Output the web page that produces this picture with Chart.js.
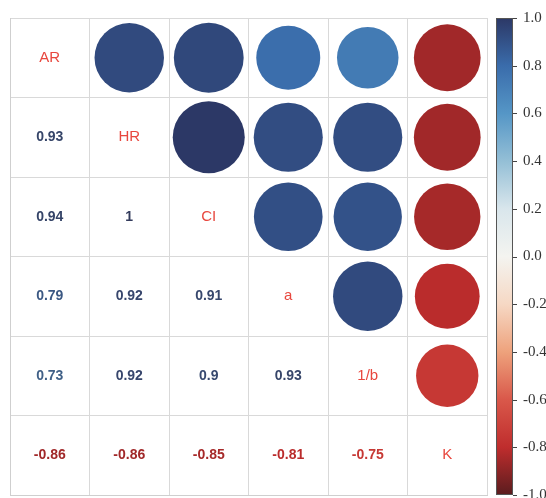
<!DOCTYPE html>
<html>
<head>
<meta charset="utf-8">
<script src="https://cdn.jsdelivr.net/npm/chart.js@4"></script>
<style>
  html, body { margin: 0; padding: 0; background: #fff; }
  #wrap { width: 546px; height: 498px; }
</style>
</head>
<body>
<div id="wrap"><canvas id="corr"></canvas></div>
<script>
// variables, in matrix order
const varNames = ['AR', 'HR', 'CI', 'a', '1/b', 'K']

// correlation matrix, one row per variable
const corrRows = [
  [1, 0.93, 0.94, 0.79, 0.73, -0.86],
  [0.93, 1, 1, 0.92, 0.92, -0.86],
  [0.94, 1, 1, 0.91, 0.9, -0.85],
  [0.79, 0.92, 0.91, 1, 0.93, -0.81],
  [0.73, 0.92, 0.9, 0.93, 1, -0.75],
  [-0.86, -0.86, -0.85, -0.81, -0.75, 1],
]

// colour bar ticks
const barTicks = [1, 0.8, 0.6, 0.4, 0.2, 0, -0.2, -0.4, -0.6, -0.8, -1]

// diverging palette, from -1 up to 1 in steps of 0.2
const paletteStops = [
  '#5a1c1e', '#bf2d2d', '#d9584a', '#eea27c', '#f6d8c4', '#f4f4f0',
  '#d9e6ec', '#94bfd6', '#5596c6', '#3a6cab', '#2c3866',
]

const hexToRgb = (h) => [1, 3, 5].map((i) => parseInt(h.slice(i, i + 2), 16))

const mixRgb = (a, b, t) => a.map((x, k) => Math.round(x + (b[k] - x) * t))

const rgbOf = (v) => {
  const pos = (v + 1) / 2 * (paletteStops.length - 1)
  const i = Math.min(Math.floor(pos), paletteStops.length - 2)
  return mixRgb(hexToRgb(paletteStops[i]), hexToRgb(paletteStops[i + 1]), pos - i)
}

const toCss = (c) => `rgb(${c[0]},${c[1]},${c[2]})`

const colorFor = (v) => toCss(rgbOf(v))

// positive numbers print a bit darker and greyer than their circles
const textColorFor = (v) => {
  const c = rgbOf(v)
  return toCss(v > 0 ? mixRgb(c, [60, 62, 80], 0.45) : c)
}

// upper triangle -> circles
const circles = []
corrRows.forEach((row, i) => {
  row.forEach((v, j) => {
    if (j > i) circles.push({ x: j + 0.5, y: i + 0.5, v })
  })
})

const cellPx = (chart) => {
  const s = chart.scales.x
  return s.getPixelForValue(1) - s.getPixelForValue(0)
}

// lower triangle numbers and diagonal names
const cellText = {
  id: 'cellText',
  afterDatasetsDraw(chart) {
    const { ctx, scales: { x, y } } = chart
    ctx.save()
    ctx.textAlign = 'center'
    ctx.textBaseline = 'middle'
    corrRows.forEach((row, i) => {
      row.forEach((v, j) => {
        if (j > i) return
        const px = x.getPixelForValue(j + 0.5)
        const py = y.getPixelForValue(i + 0.5)
        if (i === j) {
          ctx.font = '15px "Liberation Sans", Arial, sans-serif'
          ctx.fillStyle = '#e8473e'
          ctx.fillText(varNames[i], px, py)
        } else {
          ctx.font = 'bold 14px "Liberation Sans", Arial, sans-serif'
          ctx.fillStyle = textColorFor(v)
          ctx.fillText(String(v), px, py)
        }
      })
    })
    ctx.restore()
  },
}

// gradient bar drawn along the cb scale
const colorBar = {
  id: 'colorBar',
  afterDraw(chart) {
    const { ctx, chartArea } = chart
    const s = chart.scales.cb
    const x0 = chartArea.right + 9
    const w = 17
    const top = s.getPixelForValue(1)
    const bottom = s.getPixelForValue(-1)
    const grad = ctx.createLinearGradient(0, bottom, 0, top)
    paletteStops.forEach((c, k) => grad.addColorStop(k / (paletteStops.length - 1), c))
    ctx.save()
    ctx.fillStyle = grad
    ctx.fillRect(x0, top, w, bottom - top)
    ctx.strokeStyle = '#555'
    ctx.lineWidth = 1
    ctx.strokeRect(x0 + 0.5, top + 0.5, w - 1, bottom - top - 1)
    ctx.strokeStyle = '#444'
    barTicks.forEach((v) => {
      const py = Math.round(s.getPixelForValue(v)) + 0.5
      ctx.beginPath()
      ctx.moveTo(x0 + w, py)
      ctx.lineTo(x0 + w + 4, py)
      ctx.stroke()
    })
    ctx.restore()
  },
}

const gridScale = {
  type: 'linear',
  min: 0,
  max: 6,
  ticks: { display: false, stepSize: 1 },
  grid: { color: '#d9d9d9', drawTicks: false, lineWidth: 1 },
  border: { display: true, color: '#cfcfcf' },
}

new Chart(document.getElementById('corr').getContext('2d'), {
  type: 'scatter',
  data: {
    datasets: [
      {
        data: circles,
        showLine: false,
        pointBorderWidth: 0,
        pointBackgroundColor: (c) => (c.raw ? colorFor(c.raw.v) : '#000'),
        pointRadius: (c) => (c.raw ? cellPx(c.chart) * 0.453 * Math.sqrt(Math.abs(c.raw.v)) : 0),
      },
    ],
  },
  options: {
    responsive: true,
    maintainAspectRatio: false,
    animation: false,
    events: [],
    layout: { padding: { left: 10, top: 18, right: 0, bottom: 3 } },
    plugins: { legend: { display: false }, tooltip: { enabled: false } },
    scales: {
      x: { ...gridScale, position: 'bottom', afterFit: (s) => { s.height = 0 } },
      y: { ...gridScale, position: 'left', reverse: true, afterFit: (s) => { s.width = 0 } },
      cb: {
        type: 'linear',
        position: 'right',
        min: -1,
        max: 1,
        afterBuildTicks: (s) => { s.ticks = barTicks.map((v) => ({ value: v })) },
        afterFit: (s) => {
          s.width = 59
          s.paddingTop = 0
          s.paddingBottom = 0
        },
        grid: { display: false, drawTicks: false },
        border: { display: false },
        ticks: {
          padding: 36,
          color: '#333',
          font: { family: '"Liberation Serif", "Times New Roman", serif', size: 15 },
          callback: (v) => v.toFixed(1),
        },
      },
    },
  },
  plugins: [cellText, colorBar],
})
</script>
</body>
</html>
